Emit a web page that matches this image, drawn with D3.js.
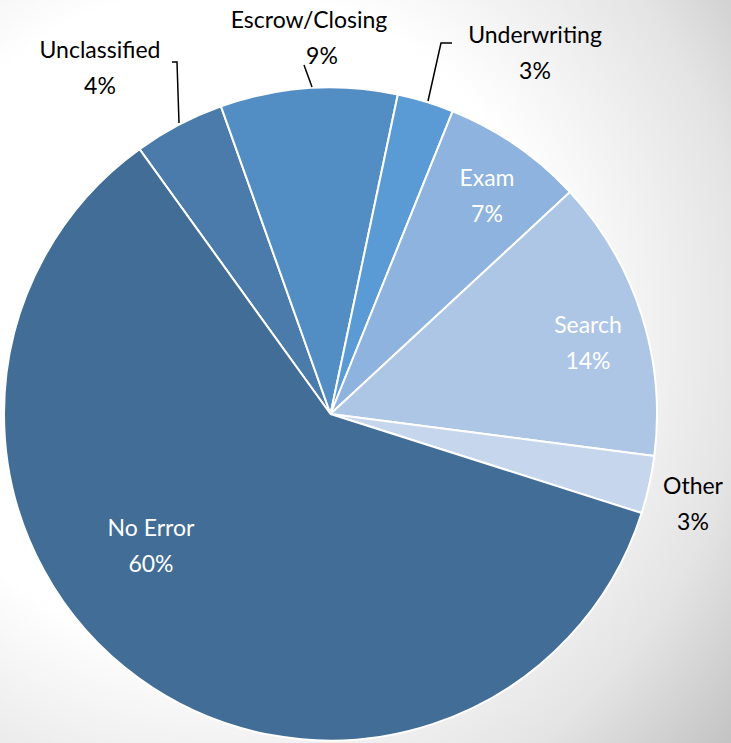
<!DOCTYPE html>
<html><head><meta charset="utf-8">
<script src="https://cdn.jsdelivr.net/npm/d3@7"></script>
<style>html,body{margin:0;padding:0;background:#fff;}svg{display:block;}</style>
</head><body>
<script>
const categories = ["Unclassified","Escrow/Closing","Underwriting","Exam","Search","Other","No Error"];
const values = [4.5, 8.75, 2.8, 7.0, 13.95, 2.85, 60.15];
const labels = ["4%","9%","3%","7%","14%","3%","60%"];
const colors = ["#4a7bab","#528ec4","#5b9bd5","#8db3de","#adc6e6","#c6d6ec","#416d96"];

const W = 731, H = 743;
const cx = 330.5, cy = 414, R = 326.5;
const svg = d3.select("body").append("svg").attr("width", W).attr("height", H);
const defs = svg.append("defs");
const grad = defs.append("radialGradient").attr("id","bg").attr("gradientUnits","userSpaceOnUse")
  .attr("cx",220).attr("cy",320).attr("r",660);
grad.append("stop").attr("offset","0.5").attr("stop-color","#ffffff");
grad.append("stop").attr("offset","0.8").attr("stop-color","#e4e4e4");
grad.append("stop").attr("offset","1").attr("stop-color","#c4c4c4");
svg.append("rect").attr("width",W).attr("height",H).attr("fill","url(#bg)");

const data = categories.map((c,i)=>({cat:c, value:values[i], label:labels[i], color:colors[i]}));
const start = -35.8 * Math.PI/180;
const pie = d3.pie().sort(null).value(d=>d.value).startAngle(start).endAngle(start + 2*Math.PI);
const arcs = pie(data);
const arc = d3.arc().innerRadius(0).outerRadius(R);
const g = svg.append("g").attr("transform",`translate(${cx},${cy})`);
g.selectAll("path").data(arcs).join("path")
  .attr("d", arc).attr("fill", d=>d.data.color)
  .attr("stroke","#fff").attr("stroke-width",2).attr("stroke-linejoin","round");

const font = "Lato, 'Open Sans', sans-serif";
const labelPos = {
  "Unclassified": {x:100, y:50, fill:"#000"},
  "Escrow/Closing": {x:309, y:20, fill:"#000", px:322},
  "Underwriting": {x:535, y:35, fill:"#000"},
  "Exam": {x:487, y:178, fill:"#fff"},
  "Search": {x:588, y:325, fill:"#fff"},
  "Other": {x:693, y:486, fill:"#000"},
  "No Error": {x:151, y:528, fill:"#fff"}
};
const tg = svg.append("g").attr("font-family",font).attr("font-size",23).attr("text-anchor","middle");
data.forEach(d=>{
  const p = labelPos[d.cat];
  const t = tg.append("text").attr("fill",p.fill);
  t.append("tspan").attr("x",p.x).attr("y",p.y).attr("dy","0.35em").text(d.cat);
  t.append("tspan").attr("x",p.px||p.x).attr("y",p.y+36).attr("dy","0.35em").text(d.label);
});

const leaders = [
  [[172,62],[177,62],[179,123]],
  [[304,65],[312,87]],
  [[452,43],[441,43],[428,101]]
];
const line = d3.line();
svg.append("g").selectAll("path").data(leaders).join("path")
  .attr("d", line).attr("fill","none").attr("stroke","#000").attr("stroke-width",1.5);
</script>
</body></html>
